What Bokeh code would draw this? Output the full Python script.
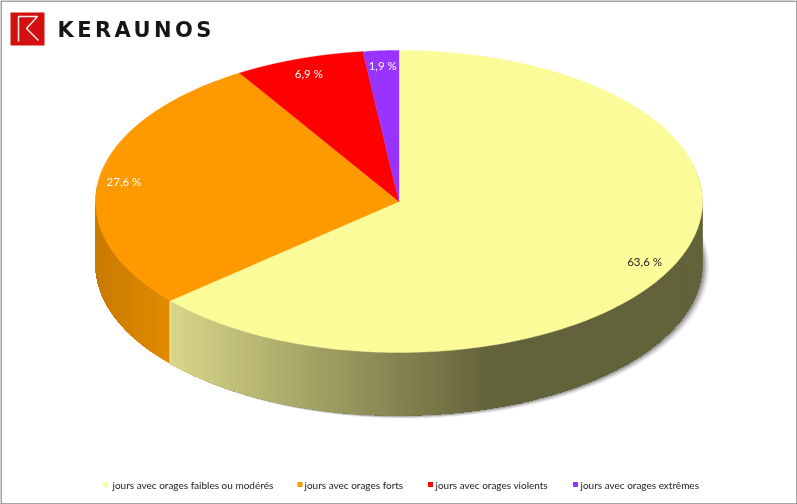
import numpy as np
from bokeh.plotting import figure
from bokeh.models import Range1d
from bokeh.core.properties import value
from bokeh.embed import file_html
from bokeh.resources import INLINE

# --- data ---
categories = ["jours avec orages faibles ou modérés", "jours avec orages forts",
              "jours avec orages violents", "jours avec orages extrêmes"]
shares = [63.6, 27.6, 6.9, 1.9]
share_labels = ["63,6 %", "27,6 %", "6,9 %", "1,9 %"]
colors = ["#FBFB99", "#FF9900", "#FF0000", "#9933FF"]
label_colors = ["#222222", "#ffffff", "#ffffff", "#ffffff"]
brand = "KERAUNOS"

# --- layout (page pixels) ---
W, H = 797, 504
CX, CY, RX, RY, DEPTH = 398.5, 201.0, 303.5, 151.0, 63.0
LABEL_FRAC = 0.9
label_dx = [-3, -5, 0, 0]
label_dy = [4, 0, 0, 0]
FONT = value("Lato")
legend_sq_x = [105, 299.5, 430, 575]
legend_text_x = [112, 304, 435, 580]
legend_y = 484

p = figure(width=W, height=H, output_backend="svg", toolbar_location=None,
           x_range=Range1d(0, W), y_range=Range1d(H, 0),
           min_border=0, min_border_left=0, min_border_right=0,
           min_border_top=0, min_border_bottom=0,
           background_fill_color="#ffffff", border_fill_color="#ffffff",
           outline_line_color=None,
           styles={"position": "fixed", "left": "0px", "top": "0px"})
p.axis.visible = False
p.grid.visible = False


def ex(t):
    return CX + RX * np.sin(t)


def ey(t):
    return CY - RY * np.cos(t)


def mix(stops, x):
    xs = [s[0] for s in stops]
    rgb = [np.interp(x, xs, [s[1][i] for s in stops]) for i in range(3)]
    return "#%02x%02x%02x" % tuple(int(round(c)) for c in rgb)


edges = np.radians(np.concatenate([[0.0], np.cumsum(shares)]) * 3.6)

# soft shadow of the disc
tt = np.linspace(np.pi / 2 - 0.25, 3 * np.pi / 2 + 0.1, 200)
for off, alpha in [(7, 0.06), (6, 0.08), (5, 0.10), (4, 0.14), (3, 0.2), (2, 0.3)]:
    sx = np.concatenate([ex(tt) + off, ex(tt[::-1])])
    sy = np.concatenate([ey(tt) + DEPTH + off * 0.45, ey(tt[::-1])])
    p.patch(sx, sy, fill_color="#666666", fill_alpha=alpha, line_color=None)

# side wall: shaded strips along the visible lower half of the rim.
# Each strip runs on to the wall's far end, so later strips paint over it and no seams show.
side_stops = [
    [(170, (0xD8, 0xD6, 0x8A)), (300, (0xA8, 0xA7, 0x68)), (490, (0x63, 0x63, 0x3B)), (702, (0x63, 0x63, 0x3B))],
    [(95, (0xC8, 0x7A, 0x00)), (169, (0xE2, 0x8A, 0x00))],
]
for i in range(2):
    a, b = max(edges[i], np.pi / 2), min(edges[i + 1], 3 * np.pi / 2)
    n = max(int(np.degrees(b - a)), 2)
    ts = np.linspace(a, b, n + 1)
    xs, ys, cs = [], [], []
    for k in range(n):
        arc = np.linspace(ts[k], b, n - k + 1)
        xs.append(np.concatenate([ex(arc), ex(arc[::-1])]))
        ys.append(np.concatenate([ey(arc), ey(arc[::-1]) + DEPTH]))
        cs.append(mix(side_stops[i], (ex(ts[k]) + ex(ts[k + 1])) / 2))
    p.patches(xs, ys, fill_color=cs, line_color=None)

# pale edge where the two walls meet
p.line([ex(edges[1])] * 2, [ey(edges[1]), ey(edges[1]) + DEPTH], line_color="#FFF3B0", line_width=1)

# top of the disc
for i, c in enumerate(colors):
    t = np.linspace(edges[i], edges[i + 1], 240)
    p.patch(np.concatenate([[CX], ex(t)]), np.concatenate([[CY], ey(t)]),
            fill_color=c, line_color=c, line_width=0.4)

# slice labels
mids = (edges[:-1] + edges[1:]) / 2
p.text(CX + RX * LABEL_FRAC * np.sin(mids) + np.array(label_dx),
       CY - RY * LABEL_FRAC * np.cos(mids) + np.array(label_dy), text=share_labels,
       text_color=label_colors, text_font=FONT, text_font_size="11.5px",
       text_align="center", text_baseline="middle")

# legend
p.rect(legend_sq_x, [legend_y] * 4, width=5, height=5, fill_color=colors, line_color=None)
p.text(legend_text_x, [legend_y] * 4, text=categories, text_color="#222222",
       text_font=FONT, text_font_size="10px", text_align="left", text_baseline="middle")

# brand mark
p.quad(left=[10], right=[44], top=[12], bottom=[45], fill_color="#D40F0F", line_color=None)
p.line([18, 18, 37, 26, 38], [41, 16, 16, 28, 40], line_color="#FBE9E9", line_width=1.5)

# frame of the picture
p.line([0.5, 0.5, W - 0.5, W - 0.5, 0.5], [H - 0.5, 0.5, 0.5, H - 0.5, H - 0.5], line_color="#888888", line_width=1.5)

# wordmark: its own small figure, so that only it gets the wide letter spacing
q = figure(width=170, height=30, output_backend="svg", toolbar_location=None,
           x_range=Range1d(0, 170), y_range=Range1d(30, 0),
           min_border=0, min_border_left=0, min_border_right=0,
           min_border_top=0, min_border_bottom=0,
           background_fill_color=None, border_fill_color=None, outline_line_color=None,
           styles={"position": "fixed", "left": "55px", "top": "14px", "letter-spacing": "3.4px"})
q.axis.visible = False
q.grid.visible = False
q.text([2], [15], text=[brand], text_color="#16161a", text_font=value("DejaVu Sans"),
       text_font_size="21px", text_align="left", text_baseline="middle", text_font_style="bold")

open("out.html", "w").write(file_html([p, q], INLINE))
